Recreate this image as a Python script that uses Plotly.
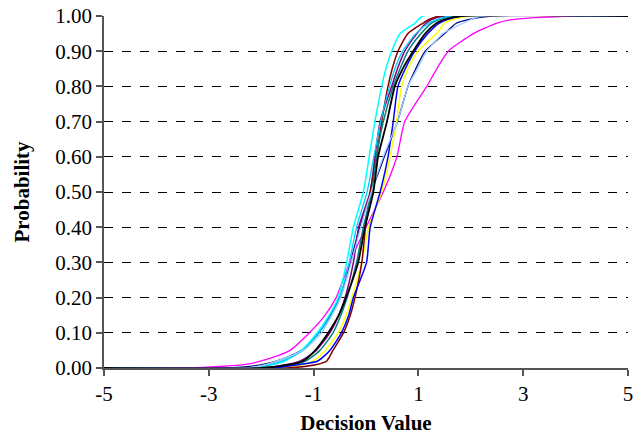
import plotly.graph_objects as go

# cumulative probability levels at which each curve's decision value was read
probs = [0, 0.01, 0.02, 0.05, 0.1, 0.15, 0.2, 0.3, 0.4, 0.5, 0.6, 0.7, 0.8, 0.85, 0.9, 0.95, 0.98, 0.99, 1.0]

navy    = [-2.70, -1.96, -1.70, -1.23, -0.90, -0.68, -0.50, -0.30, -0.12, 0.10, 0.35, 0.60, 0.80, 0.95, 1.13, 1.50, 1.73, 1.95, 2.40]
magenta = [-3.35, -2.30, -2.00, -1.45, -1.08, -0.78, -0.57, -0.31, 0.00, 0.33, 0.59, 0.74, 1.16, 1.35, 1.57, 2.05, 2.50, 2.80, 3.90]
yellow  = [-1.80, -1.20, -1.00, -0.78, -0.53, -0.38, -0.27, -0.08, 0.05, 0.30, 0.46, 0.58, 0.68, 0.80, 0.99, 1.35, 1.50, 1.65, 2.00]
cyan    = [-2.15, -1.77, -1.55, -1.23, -0.93, -0.70, -0.53, -0.37, -0.24, -0.05, 0.06, 0.17, 0.30, 0.38, 0.49, 0.65, 0.94, 1.00, 1.09]
purple  = [-2.00, -1.50, -1.25, -0.95, -0.69, -0.52, -0.40, -0.24, -0.14, 0.08, 0.17, 0.27, 0.49, 0.60, 0.74, 0.97, 1.15, 1.25, 1.50]
maroon  = [-1.50, -0.94, -0.75, -0.63, -0.43, -0.30, -0.21, -0.08, -0.01, 0.08, 0.20, 0.30, 0.42, 0.50, 0.61, 0.80, 1.09, 1.20, 1.41]
teal    = [-1.90, -1.40, -1.15, -0.88, -0.63, -0.48, -0.36, -0.18, -0.05, 0.11, 0.20, 0.33, 0.52, 0.65, 0.80, 1.05, 1.25, 1.40, 1.70]
blue    = [-1.80, -1.26, -0.92, -0.69, -0.47, -0.33, -0.24, 0.01, 0.08, 0.27, 0.42, 0.52, 0.61, 0.75, 0.93, 1.18, 1.40, 1.55, 1.85]
sky     = [-2.10, -1.80, -1.60, -1.20, -0.90, -0.66, -0.50, -0.32, -0.18, 0.02, 0.15, 0.28, 0.45, 0.55, 0.70, 0.95, 1.20, 1.35, 1.60]
ltblue  = [-2.30, -1.90, -1.70, -1.20, -0.85, -0.65, -0.48, -0.28, -0.10, 0.10, 0.33, 0.60, 0.80, 0.98, 1.16, 1.47, 1.86, 2.00, 2.20]
black   = [-2.00, -1.45, -1.20, -0.97, -0.72, -0.52, -0.38, -0.15, -0.02, 0.14, 0.23, 0.40, 0.55, 0.70, 0.90, 1.13, 1.35, 1.50, 1.80]

x_min, x_max = -5, 5
x_ticks = [-5, -3, -1, 1, 3, 5]
y_ticks = [0, 0.1, 0.2, 0.3, 0.4, 0.5, 0.6, 0.7, 0.8, 0.9, 1.0]

series = [
    ("Series 1", navy, "#000080", 1.3),
    ("Series 2", magenta, "#FF00FF", 1.3),
    ("Series 3", yellow, "#FFFF00", 1.5),
    ("Series 4", cyan, "#00FFFF", 1.5),
    ("Series 5", purple, "#800080", 1.5),
    ("Series 6", maroon, "#800000", 1.5),
    ("Series 7", teal, "#008080", 1.5),
    ("Series 8", blue, "#0000FF", 1.5),
    ("Series 9", sky, "#00CCFF", 1.3),
    ("Series 10", ltblue, "#99CCFF", 1.3),
    ("Series 11", black, "#000000", 1.8),
]

fig = go.Figure()
for name, vals, color, w in series:
    fig.add_trace(go.Scatter(
        x=[x_min] + vals + [x_max],
        y=[probs[0]] + probs + [probs[-1]],
        mode="lines", name=name,
        line=dict(color=color, width=w, shape="spline", smoothing=0.6),
        showlegend=False,
    ))

font_family = "Liberation Serif, Times New Roman, serif"
# page body has an 8px margin, so the figure is sized/offset to compensate
fig.update_layout(
    width=634, height=427,
    margin=dict(l=96, r=14, t=8, b=67, autoexpand=False),
    paper_bgcolor="white", plot_bgcolor="white",
    font=dict(family=font_family, size=21, color="black"),
    xaxis=dict(
        range=[x_min, x_max], tickvals=x_ticks, ticktext=[str(t) for t in x_ticks],
        showgrid=False, zeroline=False, automargin=False,
        showline=True, linecolor="#555555", linewidth=1.5,
        ticks="outside", ticklen=6, tickcolor="#555555", tickwidth=1.5,
        tickfont=dict(size=21), ticklabeloverflow="allow",
        title=dict(text="<b>Decision Value</b>", font=dict(size=21), standoff=22),
    ),
    yaxis=dict(
        range=[0, 1], tickvals=y_ticks, tickformat=".2f",
        showgrid=True, gridcolor="black", griddash="dash", gridwidth=1,
        zeroline=False, automargin=False,
        showline=True, linecolor="#555555", linewidth=1.5,
        ticks="outside", ticklen=6, tickcolor="#555555", tickwidth=1.5,
        tickfont=dict(size=21), ticklabeloverflow="allow",
        title=dict(text="<b>Probability</b>", font=dict(size=21), standoff=20),
    ),
)

fig.write_html("out.html")
